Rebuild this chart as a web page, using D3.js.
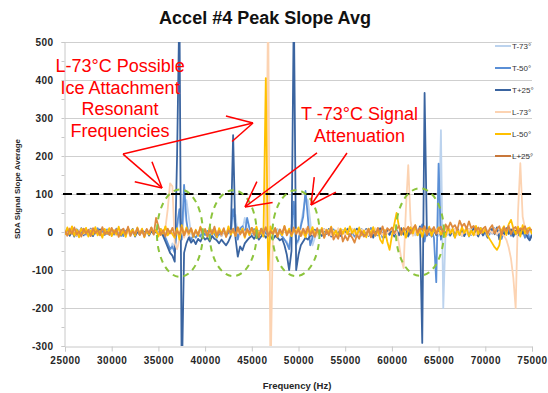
<!DOCTYPE html>
<html>
<head>
<meta charset="utf-8">
<style>
  body { margin: 0; background: #fff; }
  svg text { font-family: "Liberation Sans", Arial, sans-serif; }
</style>
</head>
<body>
<div id="chart"></div>
<script src="https://cdn.jsdelivr.net/npm/d3@7"></script>
<script>
// sample grid: 25000 Hz .. 75000 Hz every 250 Hz
var freqStart = 25000, freqStep = 250;

var tM73 = [
  -3, 6, -8, 4, -5, 9, -2, 7, -10, 3, -6, 5, -9, 8, -4, 2, -7, 6, -3, 9,
  -6, 4, -2, 8, -9, 3, -5, 7, -11, 2, -4, 9, -7, 5, -3, 6, -10, 4, -2, 7,
  -5, 3, -8, -20, -35, -52, -30, -40, 10, 40, -10, 60, 84, 40, -5, -12, 3, -8, 5, -6,
  4, -9, 7, -3, 10, -6, 2, -11, 5, -4, 8, -2, 30, 45, -10, 12, 5, 37, 8, -5,
  6, -8, 3, -5, 9, -3, 7, -10, 4, -6, 2, 8, -4, -10, -20, -25, -40, 0, 40, -35,
  -25, 20, 55, 90, 84, 30, -35, -15, 5, -7, 4, -9, 6, -3, 8, -6, 2, -10, 5, -4,
  7, -5, 3, -8, 9, -2, 6, -11, 4, -3, 8, -6, 2, -9, 5, -4, 10, -7, 3, -5,
  6, -3, 9, -8, 4, -6, 2, 10, -5, 3, -9, 7, -2, 5, -8, 4, -6, 9, -3, 6,
  -10, 268, -200, 5, -8, 7, -3, 9, -6, 2, -11, 5, -4, 8, -7, 3, -5, 10, -2, 6,
  -9, 4, -6, 8, -3, 11, -7, 2, -5, 9, -4, 6, -10, 3, -7, 8, -3, 5, -8, 2,
  -4
];
var tM50 = [
  5, -6, 9, -3, 7, -10, 4, -2, 8, -7, 3, -9, 6, -4, 10, -5, 2, -8, 7, -3,
  4, -7, 9, -2, 6, -11, 3, 8, -5, 2, -9, 7, -4, 5, -8, 3, -6, 10, -3, 6,
  -5, 8, -4, -15, -30, -45, -38, -55, 20, 60, -20, 124, 30, -10, -20, -8, -15, -5, -12, 4,
  -8, 3, -12, 5, -6, -15, -4, -10, 2, -7, -3, 5, 60, 20, -20, 8, 15, -5, 37, 10,
  -5, 8, -10, 3, -6, 10, -4, -8, 6, -3, 9, -7, 4, -12, -20, -30, -45, 10, 80, -30,
  -20, 15, 40, 108, 40, -35, -15, 6, -8, 4, -10, 8, -5, 3, -9, 7, -4, 2, -11, 5,
  -3, 9, -7, 4, -12, 6, -2, 8, -10, 3, -6, 11, -4, 2, -9, 7, -15, -5, 4, -8,
  6, -10, 3, -5, 9, -7, 2, -12, 5, -4, 8, -6, 3, 20, -25, 10, -8, 5, -15, -132,
  180, -20, 8, -6, 3, -10, 7, -4, 10, -8, 2, -5, 9, -12, 4, -7, 6, -3, 11, -9,
  5, -14, 8, -4, 10, -7, 3, -18, 6, -2, 9, -10, 4, -6, 12, -8, 3, -15, 6, -20,
  -5
];
var tP25 = [
  -5, 8, -10, 3, -12, 6, -4, 10, -8, 2, -6, 9, -11, 4, -3, 7, -9, 1, -5, 6,
  -8, 3, -4, 9, -10, 2, -6, 5, -3, 8, -12, 1, -7, 4, -2, 6, -9, 3, -5, 2,
  -6, 4, -10, -25, -40, -55, -62, -78, 200, 600, -400, -55, -30, -15, -28, -20, -32, -18, -25, -12,
  -20, -15, -25, -10, -18, -22, -30, -20, -28, -35, -25, -10, 255, -15, -65, -38, -48, -30, -22, -15,
  -10, -18, -8, -20, -12, -5, -15, -8, -12, -20, -10, -15, -22, -18, -35, -60, -100, -50, 600, -100,
  -60, -35, -25, -15, -20, -10, -8, 5, -6, 4, -10, 6, -4, 8, -12, 3, -7, 5, -9, 2,
  -4, 7, -11, 3, -6, 9, -13, 2, -5, 8, -10, 4, -15, 6, -3, 10, -8, -14, 5, -6,
  8, -12, 4, -9, 10, -6, 3, -10, 12, -4, 6, -8, 15, -292, 366, -10, 8, -12, 5, -8,
  4, -10, 7, -5, 12, -8, 3, -14, 9, -4, 6, -11, 2, 8, -7, 11, -3, -12, 5, -9,
  6, -15, 3, 9, -6, 12, -20, 4, -8, 10, -5, 7, -12, 3, -9, 8, -4, 11, -14, -22,
  -8
];
var lM73 = [
  4, -7, 10, -3, 6, -9, 2, 8, -5, 3, -10, 7, -4, 9, -6, 2, -8, 5, -3, 10,
  -5, 3, -9, 6, -2, 8, -7, 4, -11, 5, -3, 9, -6, 2, -8, 7, -4, 10, -2, 6,
  -8, 5, -3, 10, 60, 128, 120, -30, -45, -20, 10, -15, 5, -10, 8, -6, 3, -9, 7, -4,
  6, -8, 2, -5, 9, -3, 7, -10, 4, -6, 8, -2, 5, -9, 3, -7, 10, -4, 6, -8,
  2, -5, 9, -3, 6, -8, 15, 600, -400, -10, 5, -7, 3, -9, 8, -4, 6, -10, 2, 7,
  -6, 4, -8, 9, -3, 5, -7, 2, -10, 6, -4, 8, -2, 5, -9, 3, -6, 10, -5, 4,
  -8, 2, -4, 9, -6, 3, -10, 7, -2, 5, -8, 4, -3, 10, -6, 2, -9, 6, -4, 3,
  8, -5, 3, -30, -70, -95, 60, 176, 30, -10, 5, -8, 3, -6, 9, -4, 6, -9, 2, 7,
  -5, 3, -8, 10, -4, 6, -2, 8, -7, 4, -10, 5, -3, 9, -6, 2, -8, 7, -4, 3,
  6, -9, 4, -3, 8, -6, 2, -5, -10, -20, -40, -70, -120, -200, 50, 181, 40, 10, -5, 6,
  -3
];
var lM50 = [
  -8, 12, -5, 15, -10, 6, -14, 9, -3, 11, -12, 4, -7, 13, -9, 2, -15, 8, -4, 10,
  -11, 5, -6, 14, -8, 3, -13, 10, -2, 7, -10, 12, -5, 9, -14, 4, -7, 11, -3, 6,
  -12, 8, -4, 15, -9, 3, -6, -15, 10, -20, 18, -8, 12, -5, 9, -13, 6, -10, 14, -4,
  7, -11, 13, -6, 4, -14, 10, -3, 8, -12, 15, -7, 5, -10, 12, -4, 9, -15, 6, -8,
  11, -5, 14, -9, 3, -12, 405, -100, 15, -6, 10, -13, 4, -8, 16, -5, 9, -11, 7, -3,
  12, -9, 5, -14, 8, -4, 13, -10, 3, -7, 11, -15, 6, -2, 14, -8, 4, -12, 9, -5,
  10, -6, 15, -3, 7, -11, 12, -8, 4, -14, 9, -5, 13, -10, 6, -20, -30, 5, -25, -47,
  -10, 20, 50, 15, -8, 10, -15, 6, 12, -4, 18, -9, 7, -13, 11, -5, 14, -10, 8, -3,
  12, -7, 5, -12, 15, -4, 9, -15, 6, -8, 13, -3, 10, -11, 4, -9, 16, -6, 11, -2,
  8, -10, -20, -30, -40, -47, -35, 5, 15, -8, 20, 32, 10, -6, 14, -12, 18, -4, 9, 12,
  -6
];
var lP25 = [
  3, -10, 8, -5, 12, -7, 2, -12, 9, -4, 6, -11, 10, -3, 5, -9, 13, -6, 1, -8,
  11, -4, 7, -13, 3, 9, -6, 14, -10, 2, -5, 10, -8, 4, -12, 8, -3, 12, -7, 37,
  15, -8, 5, -12, 9, -4, 11, -10, 3, -6, 13, -9, 7, -3, 10, -11, 4, -7, 12, -5,
  8, -12, 6, -4, 14, -9, 3, -7, 10, -13, 5, -2, 9, -10, 12, -6, 4, -11, 8, -3,
  11, -8, 5, -14, 9, -4, 13, -10, 2, -6, 10, -12, 7, -3, 15, -9, 4, -7, 12, -5,
  6, -11, 9, -4, 14, -8, 3, -13, 10, -6, 7, -15, 4, -9, 12, -20, -8, -18, 5, -25,
  -10, -22, -5, -15, -28, -8, -18, 2, -12, -6, 8, -14, 3, -9, 11, -5, 15, -7, 10, 4,
  12, -3, 8, 16, -6, 10, 5, 14, -4, 9, 18, -2, 11, 6, 15, -8, 10, 3, 13, -5,
  9, 14, -6, 20, 8, 25, 12, 18, 5, 30, 15, 22, 8, 28, 10, 16, 4, 12, -3, 9,
  14, -5, 10, 18, -4, 8, 15, -8, 12, 3, 16, -6, 9, 13, -3, 10, 6, 15, -4, 8,
  5
];

var seriesNames = ["T-73°", "T-50°", "T+25°", "L-73°", "L-50°", "L+25°"];
var seriesValues = [tM73, tM50, tP25, lM73, lM50, lP25];
var seriesColors = ["#bcd3ee", "#5a8fd6", "#3a64a0", "#fcd3b2", "#ffc000", "#de8a3e"];
var legendColors = ["#bcd3ee", "#5a8fd6", "#3a64a0", "#fcd3b2", "#ffc000", "#c8773a"];

var xTicks = [25000, 30000, 35000, 40000, 45000, 50000, 55000, 60000, 65000, 70000, 75000];
var yTicks = [-300, -200, -100, 0, 100, 200, 300, 400, 500];
var threshold = 100;

// annotations, in data units (Hz, slope)
var ellipses = [
  { f: 37300, v: -3, rf: 2460, rv: 115 },
  { f: 43000, v: -3, rf: 2520, rv: 113 },
  { f: 49730, v: -3, rf: 2520, rv: 113 },
  { f: 63000, v: 0, rf: 2570, rv: 115 }
];
var arrows = [
  { f0: 31210, v0: 205, f1: 35390, v1: 116 },
  { f0: 31210, v0: 205, f1: 45130, v1: 287 },
  { f0: 51980, v0: 208, f1: 44270, v1: 66 },
  { f0: 55190, v0: 208, f1: 51340, v1: 71 }
];
var noteLeft = { f: 30900, v: 421, lines: ["L-73°C Possible", "Ice Attachment", "Resonant", "Frequencies"] };
var noteRight = { f: 56530, v: 295, lines: ["T -73°C Signal", "Attenuation"] };

var W = 548, H = 393;
var x = d3.scaleLinear().domain([25000, 75000]).range([65, 532]);
var y = d3.scaleLinear().domain([-300, 500]).range([346, 42]);

var svg = d3.select("#chart").append("svg")
  .attr("width", W).attr("height", H);

// title
svg.append("text")
  .attr("x", 265).attr("y", 24)
  .attr("text-anchor", "middle")
  .style("font-size", "18px").style("font-weight", "bold").attr("fill", "#111")
  .text("Accel #4 Peak Slope Avg");

// horizontal gridlines
svg.append("g").selectAll("line")
  .data(yTicks.filter(function (d) { return d > -300; }))
  .enter().append("line")
  .attr("x1", x(25000)).attr("x2", x(75000))
  .attr("y1", function (d) { return Math.round(y(d)) + 0.5; })
  .attr("y2", function (d) { return Math.round(y(d)) + 0.5; })
  .attr("stroke", "#cfcfcf").attr("stroke-width", 1);

// y axis with minor ticks every 50
var yAxis = d3.axisLeft(y)
  .tickValues(d3.range(-300, 501, 50))
  .tickSize(3)
  .tickPadding(8)
  .tickFormat(function (d) { return d % 100 === 0 ? d : ""; });
var gy = svg.append("g")
  .attr("transform", "translate(" + (x(25000) - 0.5) + ",0)")
  .call(yAxis);
gy.select(".domain").attr("stroke", "#c8c8c8");
gy.selectAll(".tick line").attr("stroke", "#c8c8c8");
gy.selectAll(".tick text")
  .style("font-size", "10px").style("font-weight", "bold")
  .style("letter-spacing", "0.4px").attr("fill", "#262626");

// x axis
var xAxis = d3.axisBottom(x).tickValues(xTicks).tickSize(5).tickPadding(5)
  .tickFormat(d3.format("d"));
var gx = svg.append("g")
  .attr("transform", "translate(0," + (Math.round(y(-300)) + 0.5) + ")")
  .call(xAxis);
gx.select(".domain").attr("stroke", "#c8c8c8");
gx.selectAll(".tick line").attr("stroke", "#c8c8c8");
gx.selectAll(".tick text")
  .style("font-size", "10px").style("font-weight", "bold")
  .style("letter-spacing", "0.5px").attr("fill", "#262626");

// axis titles
svg.append("text")
  .attr("transform", "translate(20,189) rotate(-90)")
  .attr("text-anchor", "middle")
  .style("font-size", "8px").style("font-weight", "bold").attr("fill", "#262626")
  .text("SDA Signal Slope Average");
svg.append("text")
  .attr("x", 297).attr("y", 389)
  .attr("text-anchor", "middle")
  .style("font-size", "9.5px").style("font-weight", "bold").attr("fill", "#262626")
  .text("Frequency (Hz)");

// series
svg.append("clipPath").attr("id", "plotClip")
  .append("rect")
  .attr("x", x(25000)).attr("y", y(500))
  .attr("width", x(75000) - x(25000)).attr("height", y(-300) - y(500));

var line = d3.line()
  .x(function (d, i) { return x(freqStart + i * freqStep); })
  .y(function (d) { return y(d); });

svg.append("g").attr("clip-path", "url(#plotClip)")
  .selectAll("path")
  .data(seriesValues)
  .enter().append("path")
  .attr("d", line)
  .attr("fill", "none")
  .attr("stroke", function (d, i) { return seriesColors[i]; })
  .attr("stroke-width", 1.8)
  .attr("stroke-linejoin", "round");

// threshold line
svg.append("line")
  .attr("x1", x(25000) - 2).attr("x2", x(75000))
  .attr("y1", y(threshold)).attr("y2", y(threshold))
  .attr("stroke", "#000").attr("stroke-width", 2)
  .attr("stroke-dasharray", "9,4.5");

// legend
var leg = svg.append("g").selectAll("g")
  .data(seriesNames)
  .enter().append("g")
  .attr("transform", function (d, i) { return "translate(495," + (46 + i * 22) + ")"; });
leg.append("line")
  .attr("x1", 0).attr("x2", 16)
  .attr("stroke", function (d, i) { return legendColors[i]; })
  .attr("stroke-width", 2);
leg.append("text")
  .attr("x", 17).attr("y", 3)
  .style("font-size", "8px").attr("fill", "#333")
  .text(function (d) { return d; });

// dashed ellipses
svg.append("g").selectAll("ellipse")
  .data(ellipses)
  .enter().append("ellipse")
  .attr("cx", function (d) { return x(d.f); })
  .attr("cy", function (d) { return y(d.v); })
  .attr("rx", function (d) { return x(d.f + d.rf) - x(d.f); })
  .attr("ry", function (d) { return y(d.v - d.rv) - y(d.v); })
  .attr("fill", "none")
  .attr("stroke", "#8cc43c").attr("stroke-width", 2)
  .attr("stroke-dasharray", "6,5");

// red arrows
var arrowG = svg.append("g").attr("stroke", "#ff0000").attr("stroke-width", 1.5).attr("fill", "none");
arrows.forEach(function (a) {
  var x0 = x(a.f0), y0 = y(a.v0), x1 = x(a.f1), y1 = y(a.v1);
  var ang = Math.atan2(y0 - y1, x0 - x1);
  var wing = 28, spread = 28 * Math.PI / 180;
  arrowG.append("line").attr("x1", x0).attr("y1", y0).attr("x2", x1).attr("y2", y1);
  [-spread, spread].forEach(function (s) {
    arrowG.append("line")
      .attr("x1", x1).attr("y1", y1)
      .attr("x2", x1 + wing * Math.cos(ang + s))
      .attr("y2", y1 + wing * Math.sin(ang + s));
  });
});

// red notes
[noteLeft, noteRight].forEach(function (n) {
  svg.append("g").selectAll("text")
    .data(n.lines)
    .enter().append("text")
    .attr("x", x(n.f))
    .attr("y", function (d, i) { return y(n.v) + i * 21.7; })
    .attr("text-anchor", "middle")
    .style("font-size", "18px").attr("fill", "#ff0000")
    .text(function (d) { return d; });
});
</script>
</body>
</html>
